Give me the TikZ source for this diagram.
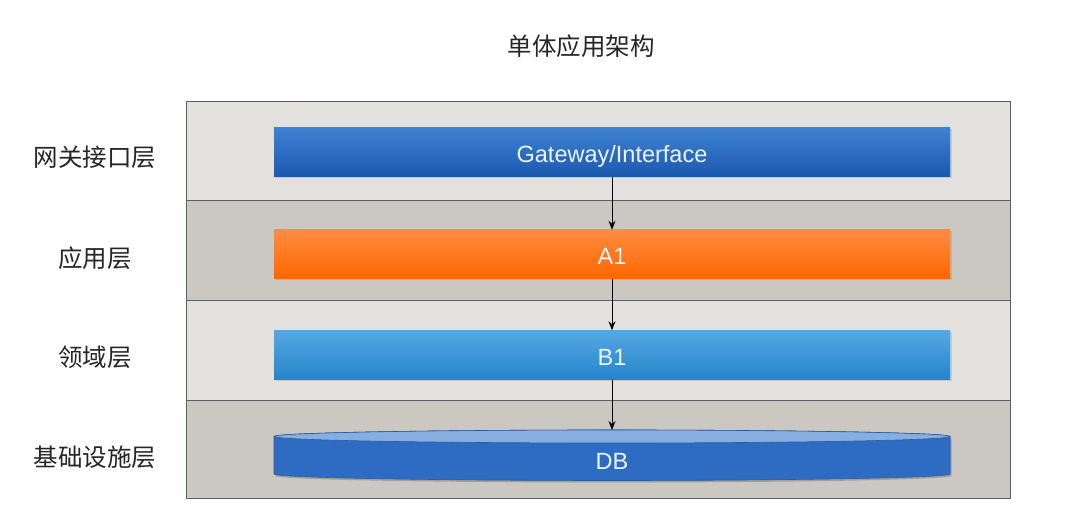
\documentclass[tikz,border=0pt]{standalone}
\usepackage{fontspec}
\setmainfont{Liberation Sans}
\newfontfamily\cjk{Noto Sans CJK SC}
\usetikzlibrary{arrows.meta,shadows}
\definecolor{bandlight}{HTML}{E2E1DD}
\definecolor{banddark}{HTML}{CBC8C1}
\definecolor{frameline}{HTML}{5A5F66}
\definecolor{gwtop}{HTML}{3E82D2}
\definecolor{gwbot}{HTML}{1B58AE}
\definecolor{atop}{HTML}{FF8C40}
\definecolor{abot}{HTML}{FF6600}
\definecolor{btop}{HTML}{55A8E2}
\definecolor{bbot}{HTML}{2585CB}
\definecolor{dbbody}{HTML}{2D6CC2}
\definecolor{dbtop}{HTML}{86AEE0}
\definecolor{dbline}{HTML}{2A5C9E}
\definecolor{bartext}{HTML}{EEF4FF}
\begin{document}
\begin{tikzpicture}[x=1pt,y=1pt,
  band/.style={draw=frameline,line width=0.8pt},
  bartxt/.style={text=bartext,font=\fontsize{23.5}{26}\selectfont,text height=21pt,text depth=0pt},
  bar/.style={minimum width=676pt,minimum height=49pt,inner sep=0pt,bartxt,
    drop shadow={shadow xshift=1.5pt,shadow yshift=-1.5pt,opacity=0.25}},
  lab/.style={font=\cjk\fontsize{24.5}{28}\selectfont,text=black!85},
  flow/.style={-{Stealth[length=9pt,width=7pt]},line width=1pt,black}]
\useasboundingbox (0,0) rectangle (1080,532);
\fill[white] (0,0) rectangle (1080,532);
% bands
\fill[bandlight] (186,332) rectangle (1010,431);
\fill[banddark] (186,232) rectangle (1010,332);
\fill[bandlight] (186,132) rectangle (1010,232);
\fill[banddark] (186,34) rectangle (1010,132);
\draw[band] (186,332) -- (1010,332);
\draw[band] (186,232) -- (1010,232);
\draw[band] (186,132) -- (1010,132);
\draw[band] (186,34) rectangle (1010,431);
% title
\node[lab] (title) at (581,486) {单体应用架构};
% labels
\node[lab] (l1) at (95,375) {网关接口层};
\node[lab] (l2) at (95,274) {应用层};
\node[lab] (l3) at (95,175) {领域层};
\node[lab] (l4) at (95,75) {基础设施层};
% bars
\node[bar,top color=gwtop,bottom color=gwbot] (gw) at (612,379.5) {Gateway/Interface};
\node[bar,top color=atop,bottom color=abot] (a1) at (612,277.5) {A1};
\node[bar,top color=btop,bottom color=bbot] (b1) at (612,177) {B1};
% DB cylinder
\coordinate (dbtopc) at (612,95.5);
\fill[black,opacity=0.2] (275.5,93.5) -- (275.5,56) arc[start angle=180,end angle=360,x radius=338,y radius=6.5] -- (951.5,93.5) -- cycle;
\filldraw[fill=dbbody,draw=dbline,line width=0.6pt] (274,95.5) -- (274,58) arc[start angle=180,end angle=360,x radius=338,y radius=6.5] -- (950,95.5) arc[start angle=0,end angle=180,x radius=338,y radius=6.5] -- cycle;
\filldraw[fill=dbtop,draw=dbline,line width=0.6pt] (dbtopc) ellipse[x radius=338,y radius=6.5];
\node[bartxt,inner sep=0pt] (db) at (612,73) {DB};
\coordinate (dbin) at (612,102);
% arrows
\draw[flow] (gw.south) -- (a1.north);
\draw[flow] (a1.south) -- (b1.north);
\draw[flow] (b1.south) -- (dbin);
\end{tikzpicture}
\end{document}
